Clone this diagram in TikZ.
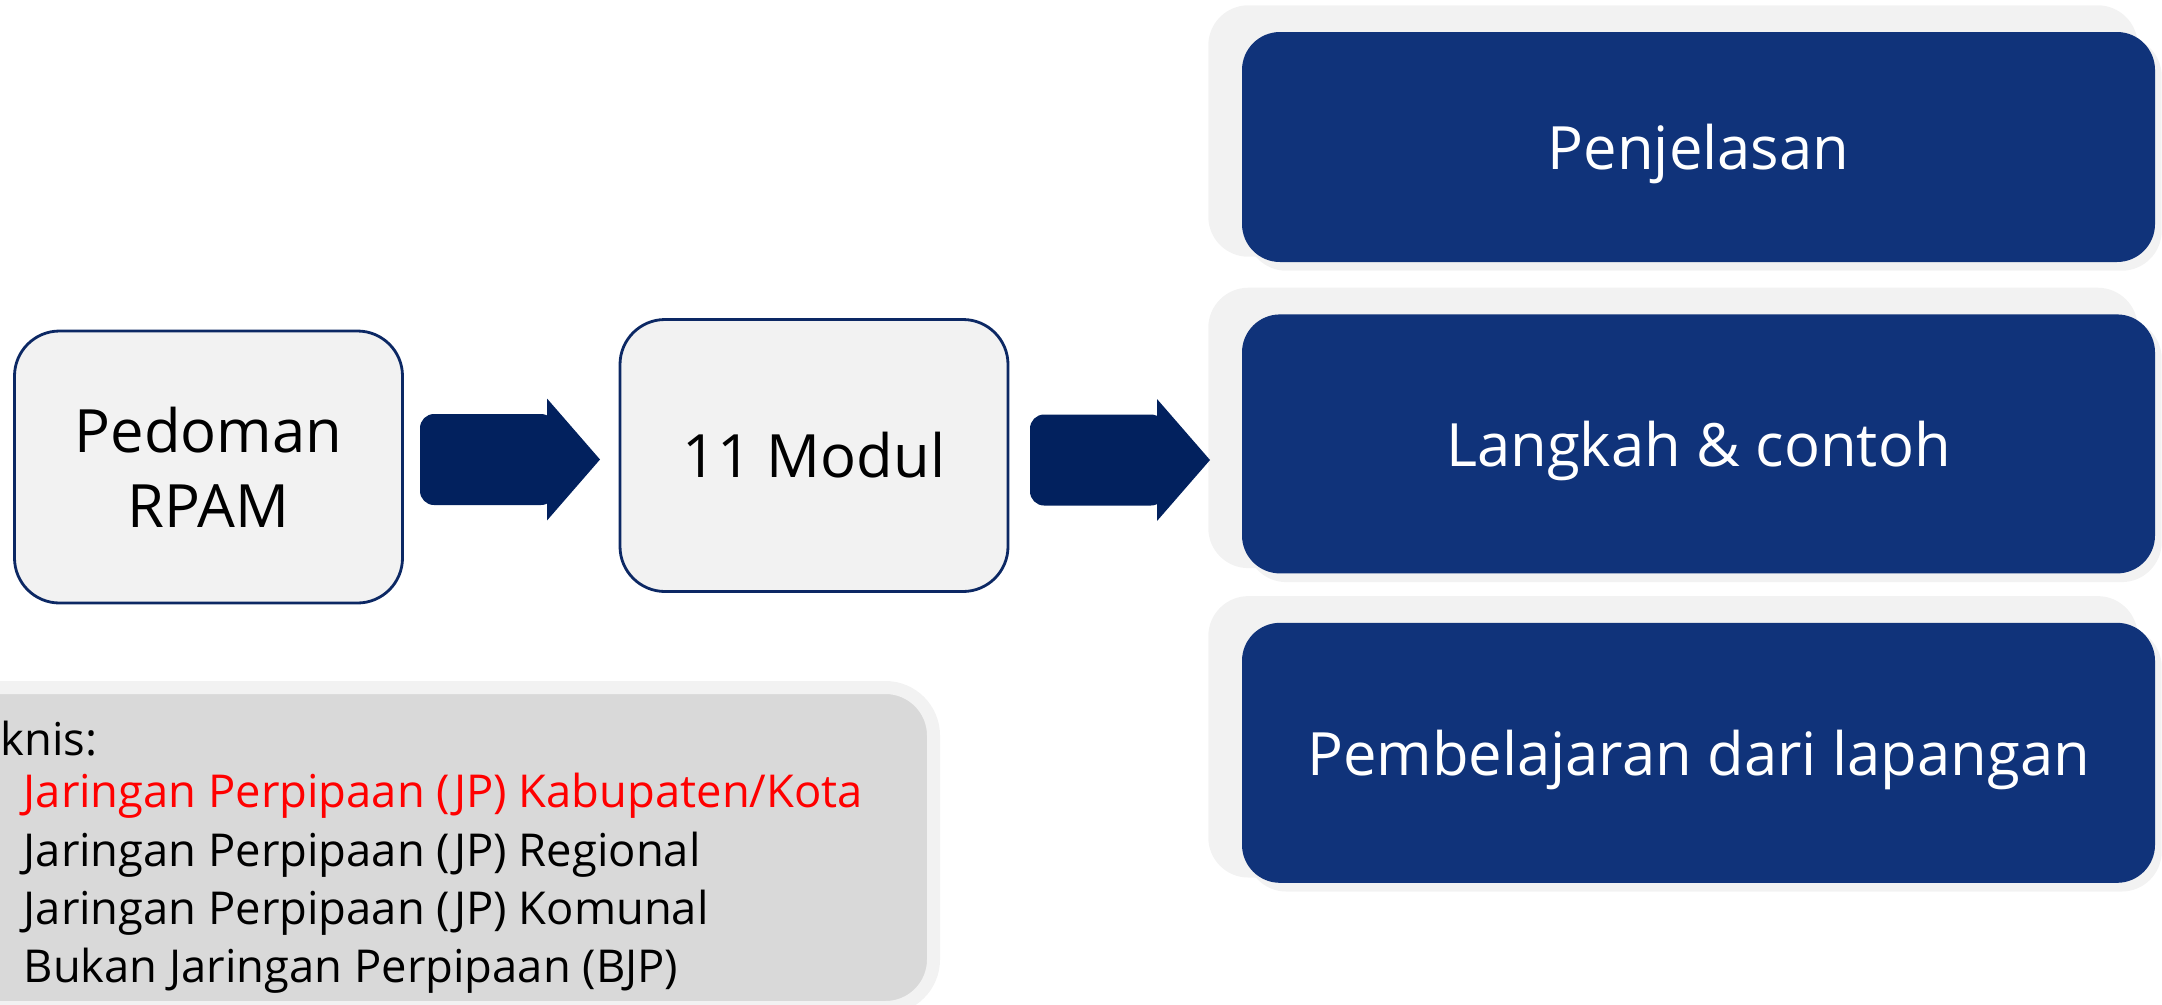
\documentclass[tikz,border=0pt]{standalone}
\usepackage{fontspec}
\setmainfont{Open Sans}
\usetikzlibrary{calc,positioning,backgrounds}
\definecolor{navy}{RGB}{16,51,122}
\definecolor{arrownavy}{RGB}{2,33,94}
\definecolor{edgenavy}{RGB}{12,40,100}
\definecolor{paleg}{RGB}{242,242,242}
\definecolor{boxgray}{RGB}{217,217,217}
\tikzset{
	stage/.style={draw=edgenavy, line width=0.8pt, fill=paleg, rounded corners=0.45cm,
		minimum width=3.88cm, minimum height=2.72cm, align=center, inner sep=0pt,
		font=\fontsize{17}{21.3}\selectfont},
	part/.style={fill=navy, text=white, rounded corners=0.38cm, minimum width=9.13cm,
		inner sep=0pt, text depth=0pt, font=\fontsize{17}{21}\selectfont},
	blockarrow/.pic={
		\fill[arrownavy, rounded corners=4pt] (-0.9,-0.455) rectangle (0.45,0.455);
		\fill[arrownavy] (0.37,-0.61) -- (0.9,0) -- (0.37,0.61) -- cycle;
	},
}

\begin{document}
\begin{tikzpicture}
\useasboundingbox (0,0) rectangle (21.62,-10.04);
\clip (0,0) rectangle (21.62,-10.04);

% the stages
\node[stage] at (2.085,-4.67) (ped) {Pedoman\\RPAM};
\node[stage] at (8.14,-4.555) (modul) {11 Modul};
\path (5.1,-4.595) pic {blockarrow};
\path (11.2,-4.6) pic {blockarrow};

% the parts of a modul
\node[part, minimum height=2.30cm] at (16.985,-1.47) (penj) {Penjelasan};
\node[part, minimum height=2.59cm, below=0.51cm of penj] (langkah) {Langkah \& contoh};
\node[part, minimum height=2.60cm, below=0.48cm of langkah] (pemb) {Pembelajaran dari lapangan};

% the shadows
\begin{scope}[on background layer]
\foreach \n in {penj,langkah,pemb}{
	\fill[paleg, rounded corners=0.4cm] ($(\n.north west)+(-0.33,0.26)$) rectangle ($(\n.south east)+(-0.18,0.06)$);
	\fill[paleg, rounded corners=0.4cm] ($(\n.north west)+(0.05,-0.05)$) rectangle ($(\n.south east)+(0.06,-0.08)$);
}
\end{scope}

% the box of jenis
\node[draw=paleg, line width=0.13cm, fill=boxgray, rounded corners=0.48cm, minimum width=10cm,
	minimum height=3.2cm, anchor=north east] at (9.40,-6.81) (teknis) {};
\node[anchor=west, inner sep=0pt, font=\fontsize{12.9}{16.6}\selectfont] at (0,-7.39) (knis) {knis:};
\node[anchor=west, inner sep=0pt, align=left, font=\fontsize{12.9}{16.6}\selectfont] at (0.23,-8.835) (jenis)
	{\textcolor{red}{Jaringan Perpipaan (JP) Kabupaten/Kota}\\
	Jaringan Perpipaan (JP) Regional\\
	Jaringan Perpipaan (JP) Komunal\\
	Bukan Jaringan Perpipaan (BJP)};
\end{tikzpicture}
\end{document}
